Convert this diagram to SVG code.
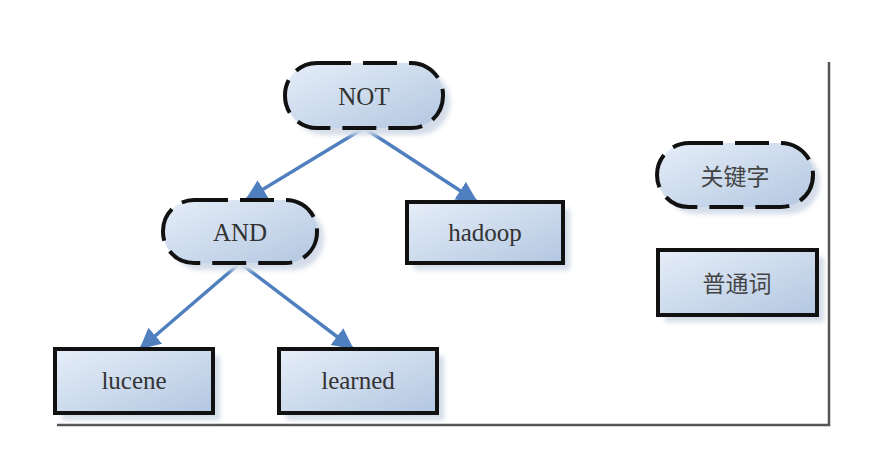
<svg xmlns="http://www.w3.org/2000/svg" width="881" height="449" viewBox="0 0 881 449">
<defs>
<linearGradient id="g" x1="0" y1="0" x2="1" y2="1">
<stop offset="0" stop-color="#e6eef8"/>
<stop offset="1" stop-color="#b3c7e1"/>
</linearGradient>
<filter id="blur" x="-20%" y="-20%" width="140%" height="140%"><feGaussianBlur stdDeviation="2.5"/></filter>
<marker id="ah" viewBox="0 0 10 10" refX="9" refY="5" markerWidth="6" markerHeight="6" orient="auto" markerUnits="strokeWidth">
<path d="M0,0 L10,5 L0,10 z" fill="#4f7fbf"/>
</marker>
<style>
.shadow{fill:#d3dce8;filter:url(#blur)}
.kw{fill:url(#g);stroke:#111;stroke-width:4;stroke-dasharray:34 12}
.word{fill:url(#g);stroke:#111;stroke-width:4}
.t{font-family:"Liberation Serif","Noto Sans CJK SC",serif;font-size:25px;fill:#333;text-anchor:middle;dominant-baseline:central}
.cjk{font-family:"Noto Sans CJK SC",serif;font-size:23px;fill:#444;text-anchor:middle;dominant-baseline:central}
.edge{stroke:#4f7fbf;stroke-width:3.5;fill:none;marker-end:url(#ah)}
.frame{stroke:#555;stroke-width:2.5;fill:none}
</style>
</defs>
<rect width="881" height="449" fill="#ffffff"/>
<g id="frame">
<path class="frame" d="M57,425 H829 V62"/>
</g>
<g id="connectors">
<line class="edge" x1="364" y1="128" x2="247" y2="199"/>
<line class="edge" x1="364" y1="128" x2="476" y2="201"/>
<line class="edge" x1="240" y1="263" x2="141" y2="348"/>
<line class="edge" x1="240" y1="263" x2="352" y2="348"/>
</g>
<g id="node-not">
<rect class="shadow" x="292" y="70" width="158" height="65" rx="32"/>
<rect class="kw" x="285" y="63" width="158" height="65" rx="32"/>
<text class="t" x="364" y="96">NOT</text>
</g>
<g id="node-and">
<rect class="shadow" x="170" y="207" width="154" height="63" rx="31"/>
<rect class="kw" x="163" y="200" width="154" height="63" rx="31"/>
<text class="t" x="240" y="232">AND</text>
</g>
<g id="node-hadoop">
<rect class="shadow" x="414" y="209" width="156" height="61"/>
<rect class="word" x="407" y="202" width="156" height="61"/>
<text class="t" x="485" y="232">hadoop</text>
</g>
<g id="node-lucene">
<rect class="shadow" x="62" y="356" width="158" height="64"/>
<rect class="word" x="55" y="349" width="158" height="64"/>
<text class="t" x="134" y="380">lucene</text>
</g>
<g id="node-learned">
<rect class="shadow" x="286" y="356" width="158" height="64"/>
<rect class="word" x="279" y="349" width="158" height="64"/>
<text class="t" x="358" y="380">learned</text>
</g>
<g id="legend-keyword">
<rect class="shadow" x="664" y="150" width="156" height="64" rx="32"/>
<rect class="kw" x="657" y="143" width="156" height="64" rx="32"/>
<text class="cjk" x="735" y="175">关键字</text>
</g>
<g id="legend-word">
<rect class="shadow" x="665" y="257" width="159" height="65"/>
<rect class="word" x="658" y="250" width="159" height="65"/>
<text class="cjk" x="737" y="282">普通词</text>
</g>
</svg>
